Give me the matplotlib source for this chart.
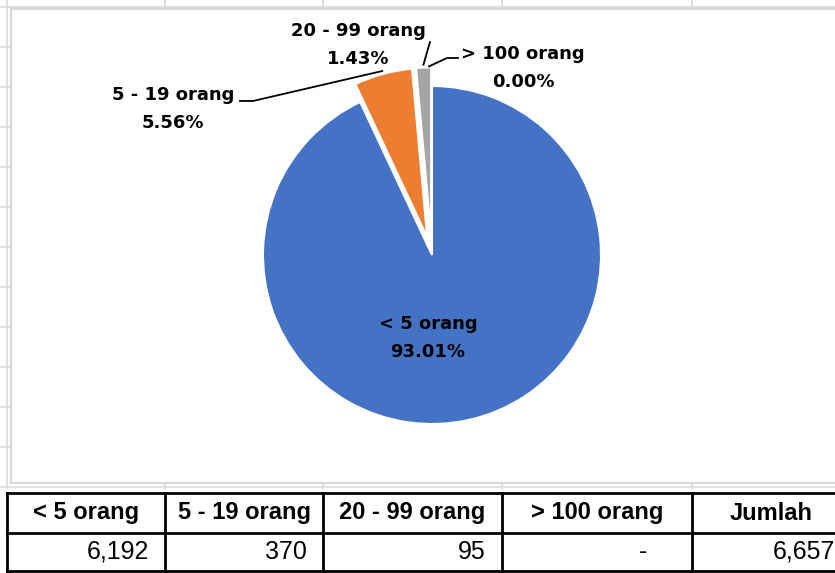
import numpy as np
import matplotlib.pyplot as plt
from matplotlib.patches import Rectangle

# --- data ---
categories = ['< 5 orang', '5 - 19 orang', '20 - 99 orang', '> 100 orang']
counts = [6192, 370, 95, 0]
total_label = 'Jumlah'
colors = ['#4472C4', '#ED7D31', '#A5A5A5', '#FFC000']

W, H = 835, 573
R = 169


def fy(y):
    # image rows (top = 0) -> axes y (bottom = 0)
    return H - y


fig = plt.figure(figsize=(W / 100, H / 100), dpi=100)
ax = fig.add_axes([0, 0, 1, 1])

# --- spreadsheet grid behind the chart ---
grid_col = '#D9D9D9'
col_edges = [7, 165, 323, 502, 692, 851]
for x in col_edges[:-1]:
    ax.plot([x, x], [0, H], color=grid_col, lw=1.2, zorder=0)
for y in range(7, 500, 40):
    ax.plot([0, W], [fy(y), fy(y)], color=grid_col, lw=1.2, zorder=0)

# chart area
ax.add_patch(Rectangle((11, fy(483)), W, 483 - 9, facecolor='white',
                       edgecolor=grid_col, lw=1.6, zorder=1))

# --- pie ---
total = sum(counts)
# explode is in data units here because the radius is in pixels
explode = [f * R for f in (0, 0.11, 0.11, 0.11)]
wedges, _ = ax.pie(counts, explode=explode, colors=colors,
                   startangle=90, counterclock=False,
                   center=(432, fy(255)), radius=R, frame=True,
                   wedgeprops=dict(edgecolor='white', linewidth=1.5))
for w, c in zip(wedges, counts):
    w.set_zorder(2)
    if c == 0:
        w.set_linewidth(0)


def edge_point(w, extra=0.0):
    t = np.deg2rad((w.theta1 + w.theta2) / 2)
    cx, cy = w.center
    return cx + (w.r + extra) * np.cos(t), cy + (w.r + extra) * np.sin(t)


lab = dict(fontsize=13, fontweight='bold', ha='center', va='center',
           linespacing=1.7, zorder=5)
pct = [f'{c / total * 100:.2f}%' for c in counts]

ax.text(428, fy(338), f'{categories[0]}\n{pct[0]}', **lab)
ax.text(173, fy(109), f'{categories[1]}\n{pct[1]}', **lab)
ax.text(358, fy(45), f'{categories[2]}\n{pct[2]}', **lab)
ax.text(523, fy(68), f'{categories[3]}\n{pct[3]}', **lab)

# leader lines
px, py = edge_point(wedges[1], 3)
ax.plot([240, 253, px], [fy(101), fy(101), py], color='black', lw=1.3, zorder=5)
px, py = edge_point(wedges[2], 3)
ax.plot([px, 430], [py, fy(42)], color='black', lw=1.3, zorder=5)
px, py = edge_point(wedges[3], 1)
ax.plot([px - 3, 447, 458], [py, fy(58), fy(58)], color='black', lw=1.3, zorder=5)

# --- table below the chart ---
ax.add_patch(Rectangle((0, fy(573)), W, 573 - 489, facecolor='white',
                       edgecolor='none', zorder=3))
rows = [493, 533, 571]
for y in rows:
    ax.plot([col_edges[0], W + 5], [fy(y), fy(y)], color='black', lw=2, zorder=4)
for x in col_edges:
    ax.plot([x, x], [fy(rows[0]), fy(rows[-1])], color='black', lw=2, zorder=4)

headers = categories + [total_label]
values = counts + [total]
tab_font = ['Liberation Sans', 'DejaVu Sans']
for i, (hd, v) in enumerate(zip(headers, values)):
    x0, x1 = col_edges[i], col_edges[i + 1]
    ax.text((x0 + x1) / 2, fy(513), hd, fontsize=17, fontweight='bold',
            family=tab_font, ha='center', va='center', zorder=5)
    if v == 0:
        ax.text(x1 - 45, fy(552), '-', fontsize=18, family=tab_font,
                ha='right', va='center', zorder=5)
    else:
        ax.text(x1 - 16, fy(552), f'{v:,}', fontsize=18, family=tab_font,
                ha='right', va='center', zorder=5)

ax.set_xlim(0, W)
ax.set_ylim(0, H)
ax.axis('off')

fig.savefig('out.png', dpi=100)
